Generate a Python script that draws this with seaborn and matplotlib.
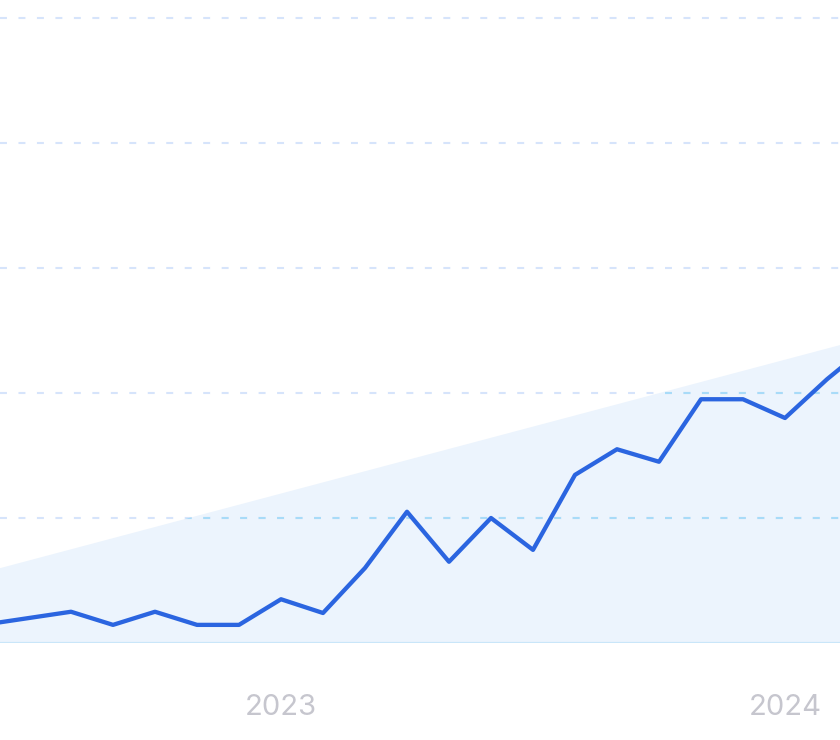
import matplotlib
matplotlib.use("Agg")
import matplotlib.pyplot as plt
import seaborn as sns

# Monthly series, index 0 = Jan 2023
month_idx = list(range(-7, 15))
values = [3.0, 4.0, 5.0, 2.9, 5.0, 2.9, 2.9, 7.0, 4.8, 12.0, 21.0,
          13.0, 20.0, 14.9, 26.9, 31.0, 29.0, 39.0, 39.0, 36.0, 42.2, 47.7]

# Light trend wedge behind the line
trend_x = [-13.4, 14]
trend_y = [0, 48.9]

year_ticks = [0, 12]
year_labels = ["2023", "2024"]
grid_values = [20, 40, 60, 80, 100]

sns.set_style("white")
plt.rcParams['font.family'] = ['Inter', 'DejaVu Sans']
plt.rcParams['lines.scale_dashes'] = False

fig = plt.figure(figsize=(8.4, 7.4), dpi=100)
ax = fig.add_axes([0, 97 / 740, 1, 643 / 740])

# Trend area
area = ax.fill_between(trend_x, 0, trend_y, color='#ecf4fd', linewidth=0, zorder=1)

# Dashed grid: pale on white, cyan inside the trend area
dash = (0, (5, 8.3))
for g in grid_values:
    ax.axhline(g, color='#d6e4fb', linewidth=1.5, linestyle=dash, zorder=2)
    inner = ax.axhline(g, color='#a8dbf8', linewidth=1.5, linestyle=dash, zorder=2)
    inner.set_clip_path(area.get_paths()[0], ax.transData)
ax.axhline(0, color='#c9e6f9', linewidth=1.6, zorder=2)

# Main line
sns.lineplot(x=month_idx, y=values, ax=ax, color='#2b65e0', linewidth=3.1, zorder=3)

ax.set_xlim(-281 / 42, (840 - 281) / 42)
ax.set_ylim(0, 643 / 125 * 20)

ax.set_yticks([])
ax.set_xticks(year_ticks, year_labels)
ax.tick_params(axis='x', length=0, pad=37, labelsize=21, labelcolor='#c6c6ce')
ax.set_xlabel('')
ax.set_ylabel('')
for s in ax.spines.values():
    s.set_visible(False)

fig.savefig("out.png", dpi=100)
